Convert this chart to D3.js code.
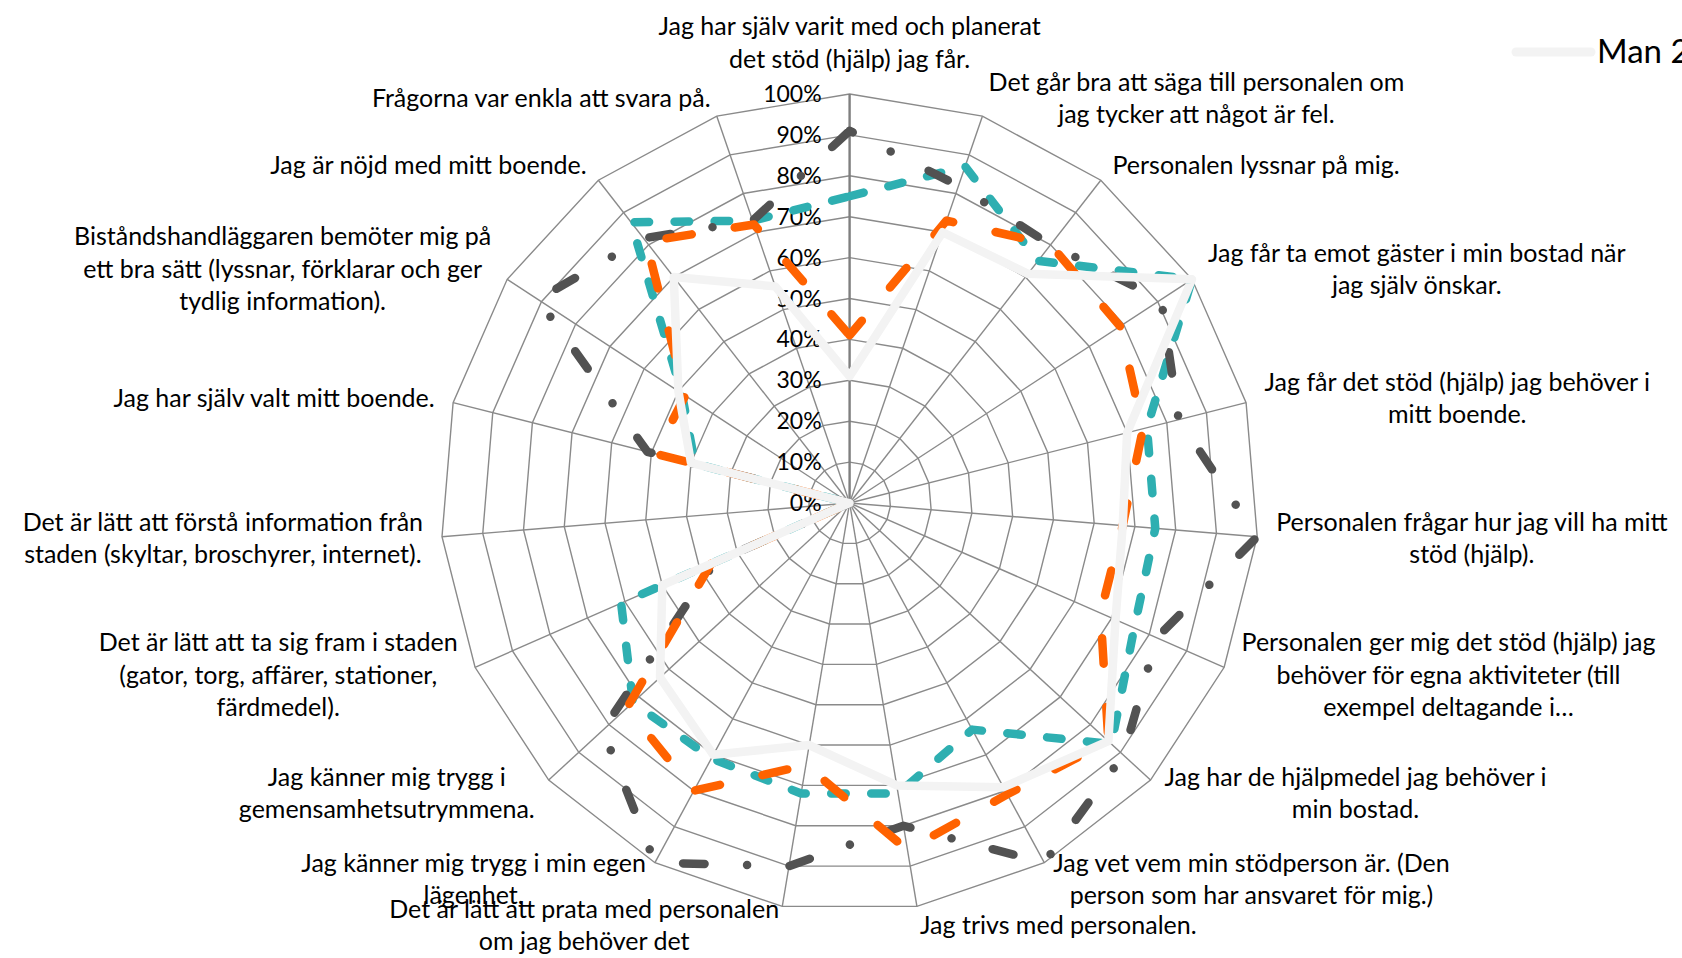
<!DOCTYPE html>
<html><head><meta charset="utf-8">
<script src="https://cdn.jsdelivr.net/npm/d3@7"></script>
<style>html,body{margin:0;padding:0;background:#fff;overflow:hidden}svg{display:block}</style>
</head><body>
<svg id="chart" width="1682" height="958"></svg>
<script>
// ---------- DATA ----------
const categories = [
  "Jag har själv varit med och planerat\ndet stöd (hjälp) jag får.",
  "Det går bra att säga till personalen om\njag tycker att något är fel.",
  "Personalen lyssnar på mig.",
  "Jag får ta emot gäster i min bostad när\njag själv önskar.",
  "Jag får det stöd (hjälp) jag behöver i\nmitt boende.",
  "Personalen frågar hur jag vill ha mitt\nstöd (hjälp).",
  "Personalen ger mig det stöd (hjälp) jag\nbehöver för egna aktiviteter (till\nexempel deltagande i…",
  "Jag har de hjälpmedel jag behöver i\nmin bostad.",
  "Jag vet vem min stödperson är. (Den\nperson som har ansvaret för mig.)",
  "Jag trivs med personalen.",
  "Det är lätt att prata med personalen\nom jag behöver det",
  "Jag känner mig trygg i min egen\nlägenhet.",
  "Jag känner mig trygg i\ngemensamhetsutrymmena.",
  "Det är lätt att ta sig fram i staden\n(gator, torg, affärer, stationer,\nfärdmedel).",
  "Det är lätt att förstå information från\nstaden (skyltar, broschyrer, internet).",
  "Jag har själv valt mitt boende.",
  "Biståndshandläggaren bemöter mig på\nett bra sätt (lyssnar, förklarar och ger\ntydlig information).",
  "Jag är nöjd med mitt boende.",
  "Frågorna var enkla att svara på."
];
const seriesNames = ["Man 2", "Serie 2", "Serie 3", "Serie 4"];
const valuesMan   = [0.31,0.70,0.71,1.00,0.70,0.67,0.71,0.86,0.79,0.70,0.60,0.70,0.63,0.50,0.00,0.40,0.50,0.70,0.56];
const valuesTeal  = [0.75,0.87,0.75,1.00,0.75,0.75,0.76,0.87,0.63,0.72,0.72,0.71,0.72,0.61,0.00,0.39,0.49,0.87,0.73];
const valuesDark  = [0.91,0.82,0.80,0.91,0.83,1.00,0.82,0.91,1.00,0.80,0.90,1.00,0.82,0.36,0.00,0.51,0.91,0.82,0.73];
const valuesOrange= [0.41,0.73,0.80,0.79,0.74,0.67,0.67,0.86,0.81,0.86,0.65,0.80,0.74,0.37,0.00,0.49,0.48,0.81,0.72];
const tickValues = [0,0.1,0.2,0.3,0.4,0.5,0.6,0.7,0.8,0.9,1.0];
const tickLabels = ["0%","10%","20%","30%","40%","50%","60%","70%","80%","90%","100%"];

// ---------- LAYOUT ----------
const cx = 849.6, cy = 503, R = 409;
const fontFamily = "Lato, 'Open Sans', sans-serif";
const labelSize = 25, tickSize = 23, lineH = 32.2;

const svg = d3.select("#chart");
const g = svg.append("g").attr("transform", `translate(${cx},${cy})`);
const n = categories.length;
const angle = d3.scaleLinear().domain([0, n]).range([0, 2 * Math.PI]);
const r = d3.scaleLinear().domain([0, 1]).range([0, R]);

// grid rings
const ring = d3.lineRadial().angle((d, i) => angle(i)).radius(d => r(d)).curve(d3.curveLinearClosed);
tickValues.filter(v => v > 0).forEach(v => {
  g.append("path").attr("d", ring(d3.range(n).map(() => v)))
    .attr("fill", "none").attr("stroke", "#8a8a8a").attr("stroke-width", 1.4);
});
// spokes
d3.range(n).forEach(i => {
  const a = angle(i);
  g.append("line").attr("x1", 0).attr("y1", 0)
    .attr("x2", r(1) * Math.sin(a)).attr("y2", -r(1) * Math.cos(a))
    .attr("stroke", i === 0 ? "#7f7f7f" : "#8a8a8a")
    .attr("stroke-width", i === 0 ? 2.4 : 1.4);
});

// tick labels
tickValues.forEach((v, k) => {
  g.append("text").attr("x", -28).attr("y", -r(v)).attr("dy", "0.35em")
    .attr("text-anchor", "end").attr("font-family", fontFamily)
    .attr("font-size", tickSize).attr("fill", "#000").text(tickLabels[k]);
});

// series
const line = d3.lineRadial().angle((d, i) => angle(i)).radius(d => r(d)).curve(d3.curveLinearClosed);
const series = [
  {name: seriesNames[2], values: valuesTeal,   color: "#2eafb1", dash: "14.5 25.5", offset: 0},
  {name: seriesNames[3], values: valuesDark,   color: "#525252", dash: "21.5 42.5 0.01 42.5", offset: 18},
  {name: seriesNames[1], values: valuesOrange, color: "#ff6200", dash: "25.5 43.5", offset: 6.5},
  {name: seriesNames[0], values: valuesMan,    color: "#f3f3f3", dash: null, offset: 0}
];
series.forEach(s => {
  const p = g.append("path").attr("d", line(s.values))
    .attr("fill", "none").attr("stroke", s.color).attr("stroke-width", 8.5)
    .attr("stroke-linecap", "round").attr("stroke-linejoin", "round");
  if (s.dash) p.attr("stroke-dasharray", s.dash).attr("stroke-dashoffset", s.offset);
});

// category labels
const off = 19;
categories.forEach((c, i) => {
  const a = angle(i), s = Math.sin(a), co = Math.cos(a);
  const ax = (r(1) + off) * s, ay = -(r(1) + off) * co;
  const lines = c.split("\n");
  const t = g.append("text").attr("font-family", fontFamily).attr("font-size", labelSize)
    .attr("fill", "#000").attr("text-anchor", "middle");
  const spans = lines.map(l => t.append("tspan").text(l));
  const wMax = d3.max(spans, sp => sp.node().getComputedTextLength());
  let mx;
  if (Math.abs(s) < 0.05) mx = ax; else if (s > 0) mx = ax + wMax / 2; else mx = ax - wMax / 2;
  let firstCenter;
  if (Math.abs(s) < 0.05 && co > 0) firstCenter = ay - (lines.length - 0.5) * lineH;
  else firstCenter = ay - (lines.length - 1) / 2 * lineH;
  spans.forEach((sp, k) => sp.attr("x", mx).attr("y", firstCenter + k * lineH + 0.35 * labelSize));
});

// legend (first entry, rest outside the picture)
const lg = svg.append("g");
lg.append("line").attr("x1", 1516).attr("x2", 1591).attr("y1", 52).attr("y2", 52)
  .attr("stroke", series[3].color).attr("stroke-width", 9).attr("stroke-linecap", "round");
lg.append("text").attr("x", 1597).attr("y", 63).attr("font-family", fontFamily)
  .attr("font-size", 33).attr("fill", "#000").text(seriesNames[0]);
</script>
</body></html>
